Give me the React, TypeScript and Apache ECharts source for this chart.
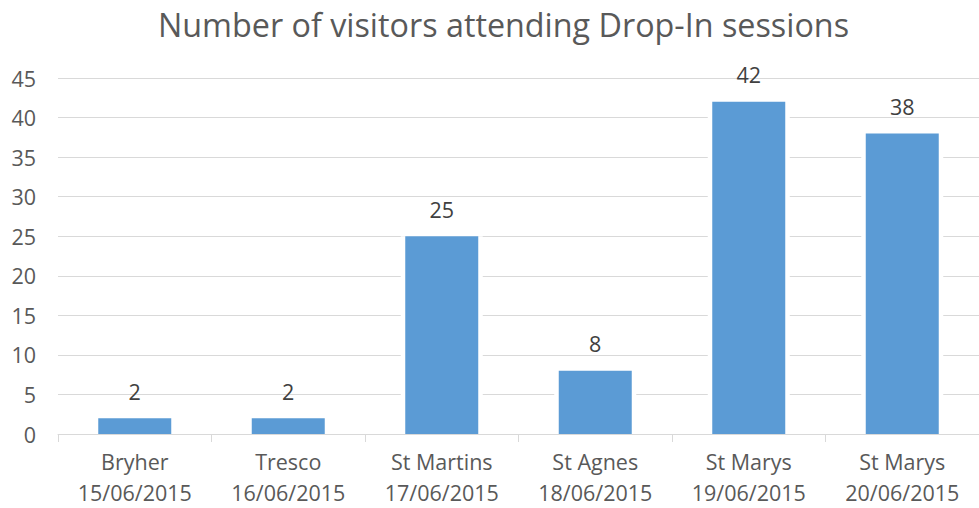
import React, { useEffect, useRef } from "react";
import * as echarts from "echarts";

const categories = [
  "Bryher\n15/06/2015",
  "Tresco\n16/06/2015",
  "St Martins\n17/06/2015",
  "St Agnes\n18/06/2015",
  "St Marys\n19/06/2015",
  "St Marys\n20/06/2015",
];
const visitors = [2, 2, 25, 8, 42, 38];
const yMin = 0;
const yMax = 45;
const yInterval = 5;
const titleText = "Number of visitors attending Drop-In sessions";

const FONT = "'Open Sans', sans-serif";
const TEXT = "#595959";

export default function App() {
  const ref = useRef<HTMLDivElement>(null);
  useEffect(() => {
    if (!ref.current) return;
    const chart = echarts.init(ref.current, undefined, { renderer: "svg" });
    chart.setOption({
      animation: false,
      backgroundColor: "#ffffff",
      title: {
        text: titleText,
        left: 153,
        top: 3,
        textStyle: { fontFamily: FONT, fontSize: 32.3, fontWeight: "normal", color: TEXT },
      },
      grid: { left: 58, right: 0, top: 78, bottom: 74, containLabel: false },
      xAxis: [
        {
          type: "category",
          data: categories,
          z: 5,
          axisLine: { show: true, lineStyle: { color: "#d9d9d9", width: 1 } },
          axisTick: { show: true, length: 8, lineStyle: { color: "#d9d9d9" } },
          axisLabel: {
            fontFamily: FONT,
            fontSize: 21.5,
            color: TEXT,
            lineHeight: 31,
            margin: 12,
            interval: 0,
          },
        },
        {
          type: "category",
          data: categories,
          show: false,
        },
      ],
      yAxis: {
        type: "value",
        min: yMin,
        max: yMax,
        interval: yInterval,
        axisLine: { show: false },
        axisTick: { show: false },
        splitLine: { lineStyle: { color: "#d9d9d9", width: 1 } },
        axisLabel: { fontFamily: FONT, fontSize: 21.5, color: TEXT, margin: 22 },
      },
      series: [
        {
          type: "bar",
          xAxisIndex: 1,
          data: visitors,
          barWidth: 82,
          silent: true,
          z: 1,
          itemStyle: { color: "#ffffff" },
        },
        {
          type: "bar",
          xAxisIndex: 0,
          data: visitors,
          barWidth: 73,
          z: 2,
          itemStyle: { color: "#5B9BD5" },
          label: {
            show: true,
            position: "top",
            distance: 16,
            fontFamily: FONT,
            fontSize: 21.5,
            color: "#404040",
          },
        },
      ],
    });
    return () => chart.dispose();
  }, []);
  return (
    <div
      ref={ref}
      style={{ position: "fixed", left: 0, top: 0, width: 979, height: 508 }}
    />
  );
}
